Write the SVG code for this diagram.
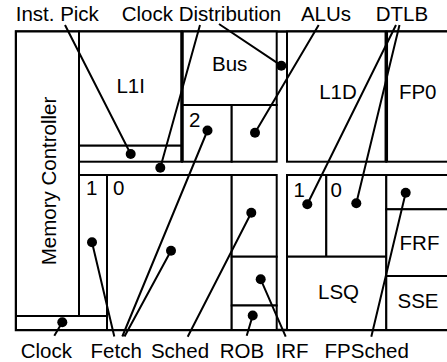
<svg xmlns="http://www.w3.org/2000/svg" width="447" height="362" viewBox="0 0 447 362">
<style>
text{font-family:"Liberation Sans",Arial,Helvetica,sans-serif;font-size:20.5px;fill:#000}
.c{text-anchor:middle}
.b{fill:#fff;stroke:#000;stroke-width:2}
.thick{stroke:#000;stroke-width:3.5;fill:none}
.lead{stroke:#000;stroke-width:2;fill:none}
.dot{fill:#000}
</style>
<rect x="0" y="0" width="447" height="362" fill="#fff"/>
<g id="outline"><path d="M449,31.5 H16 V330 H449" class="lead" style="stroke-width:2.5"/></g>
<g id="memory-controller"><rect class="b" x="16" y="31.5" width="63" height="284.5"/><text class="c" transform="translate(55.5,181) rotate(-90)">Memory Controller</text></g>
<g id="clock-strip"><rect class="b" x="16" y="316" width="91" height="14"/></g>
<g id="l1i"><rect class="b" x="79" y="31.5" width="103" height="114.2"/><text class="c" x="130.7" y="92.5">L1I</text></g>
<g id="inst-pick"><rect class="b" x="79" y="145.7" width="103" height="16"/></g>
<g id="bus"><rect class="b" x="182" y="31.5" width="94.7" height="73.5"/><text class="c" x="229.7" y="70.7">Bus</text></g>
<g id="fetch2"><rect class="b" x="182" y="105" width="49.7" height="56.7"/><text x="189" y="127">2</text></g>
<g id="alus"><rect class="b" x="231.7" y="105" width="45" height="56.7"/></g>
<g id="l1d"><rect class="b" x="287" y="31.5" width="99.3" height="130.2"/><text class="c" x="338" y="99">L1D</text></g>
<g id="fp0"><rect class="b" x="386.3" y="31.5" width="63" height="130.2"/><text class="c" x="417.7" y="99">FP0</text></g>
<g id="fetch1"><rect class="b" x="79" y="175" width="28" height="141"/><text x="86" y="195">1</text></g>
<g id="fetch0"><rect class="b" x="107" y="175" width="124.7" height="155"/><text x="113" y="195">0</text></g>
<g id="sched"><rect class="b" x="231.7" y="175" width="45" height="81.7"/></g>
<g id="irf"><rect class="b" x="231.7" y="256.7" width="45" height="48.8"/></g>
<g id="rob"><rect class="b" x="231.7" y="305.5" width="45" height="24.5"/></g>
<g id="dtlb1"><rect class="b" x="287" y="175" width="39.3" height="81.7"/><text x="293.5" y="196.5">1</text></g>
<g id="dtlb0"><rect class="b" x="326.3" y="175" width="60" height="81.7"/><text x="330.5" y="196.5">0</text></g>
<g id="lsq"><rect class="b" x="287" y="256.7" width="99.3" height="73.3"/><text class="c" x="338.5" y="298.5">LSQ</text></g>
<g id="fpsched"><rect class="b" x="386.3" y="175" width="63" height="34.3"/></g>
<g id="frf"><rect class="b" x="386.3" y="209.3" width="63" height="66.7"/><text class="c" x="419.5" y="250">FRF</text></g>
<g id="sse"><rect class="b" x="386.3" y="276" width="63" height="54"/><text class="c" x="418" y="308.3">SSE</text></g>
<g id="dividers"><path class="thick" d="M182,31.5 V161.7 M386.3,31.5 V161.7"/></g>
<g id="labels">
<text class="c" x="57.3" y="20.7">Inst. Pick</text>
<text class="c" x="201.5" y="20.7">Clock Distribution</text>
<text class="c" x="326" y="20.7">ALUs</text>
<text class="c" x="402" y="20.7">DTLB</text>
<text class="c" x="46.3" y="358">Clock</text>
<text class="c" x="116.2" y="358">Fetch</text>
<text class="c" x="180" y="358">Sched</text>
<text class="c" x="242" y="358">ROB</text>
<text class="c" x="292" y="358">IRF</text>
<text class="c" x="366.7" y="358">FPSched</text>
</g>
<g id="connectors">
<path class="lead" d="M65,25 L130.7,154 M200,25 L160.3,167.7 M219,24 L281.3,65.7 M318.7,25 L255,132.7 M396,25 L307.3,204.3 M399.5,25 L356.3,203.3 M54.3,335.7 L62.3,322.3 M114.3,336.5 L92,242.3 M122.3,336.5 L207.5,130.5 M124.5,336.5 L171,250.7 M187.7,336.7 L251.3,212.7 M246.7,335.7 L252.7,315.5 M285.7,336.7 L260.7,279.3 M371.3,336.7 L405.7,192.7"/>
<circle class="dot" cx="130.7" cy="154" r="5"/>
<circle class="dot" cx="160.3" cy="167.7" r="5"/>
<circle class="dot" cx="281.3" cy="65.7" r="5"/>
<circle class="dot" cx="207.5" cy="130.5" r="5"/>
<circle class="dot" cx="255" cy="132.7" r="5"/>
<circle class="dot" cx="307.3" cy="204.3" r="5"/>
<circle class="dot" cx="356.3" cy="203.3" r="5"/>
<circle class="dot" cx="405.7" cy="192.7" r="5"/>
<circle class="dot" cx="92" cy="242.3" r="5"/>
<circle class="dot" cx="171" cy="250.7" r="5"/>
<circle class="dot" cx="251.3" cy="212.7" r="5"/>
<circle class="dot" cx="260.7" cy="279.3" r="5"/>
<circle class="dot" cx="252.7" cy="315.5" r="5"/>
<circle class="dot" cx="62.3" cy="322.3" r="5"/>
</g>
</svg>
